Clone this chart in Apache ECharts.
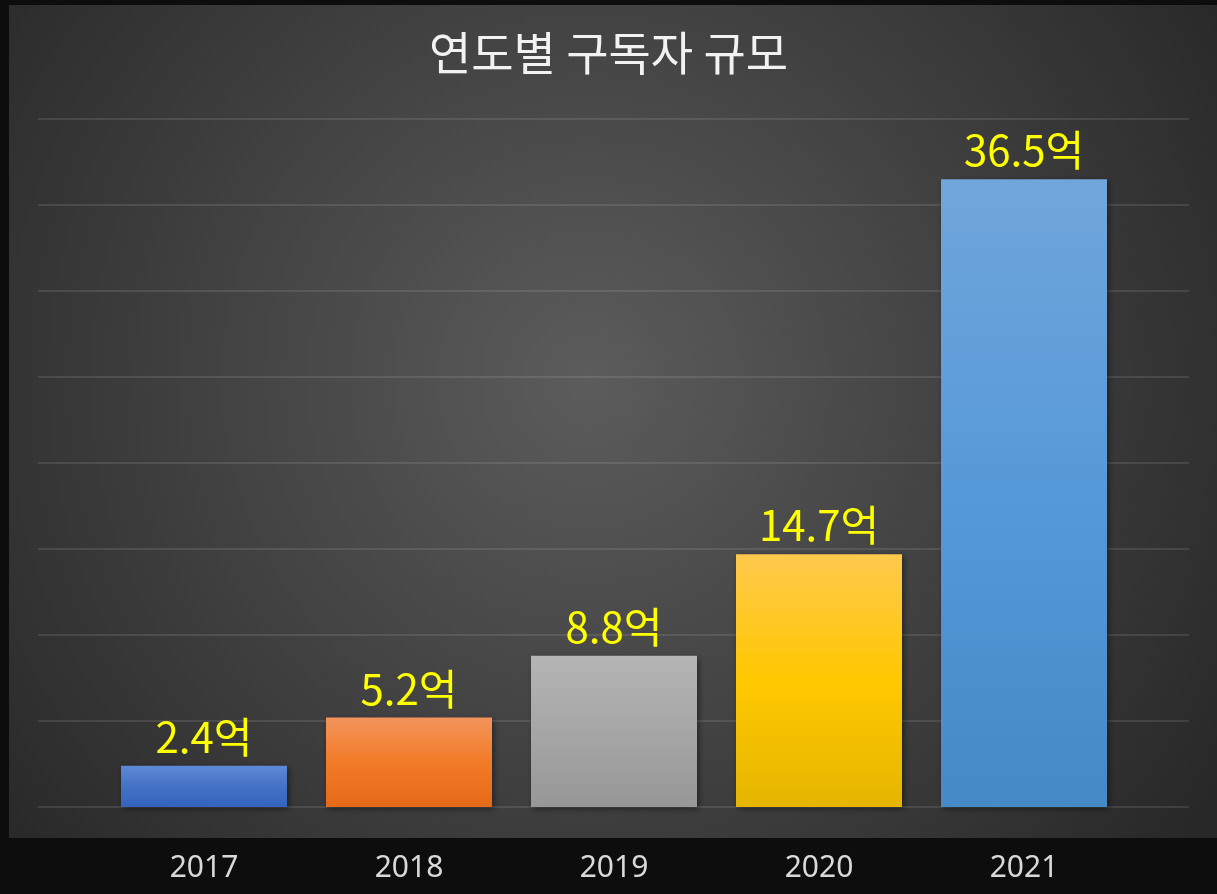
<!DOCTYPE html>
<html><head><meta charset="utf-8">
<script src="https://cdn.jsdelivr.net/npm/echarts@6/dist/echarts.min.js"></script>
<style>html,body{margin:0;padding:0;background:#0d0d0d;}#c{width:1217px;height:894px;}</style>
</head><body><div id="c"></div>
<script>
const chartTitle = '연도별 구독자 규모';
const years = ['2017', '2018', '2019', '2020', '2021'];
const subscribers = [2.4, 5.2, 8.8, 14.7, 36.5];
const unitSuffix = '억';
const yMin = 0, yMax = 40, yInterval = 5;

// styles (kept separate from data)
const barGradients = [
  ['#5e89d7', '#4472c4', '#3463bd'],
  ['#f3945c', '#f27b27', '#e56a18'],
  ['#b5b5b5', '#a6a6a6', '#979797'],
  ['#ffc94d', '#ffc800', '#e5b500'],
  ['#70a6db', '#5699d8', '#4589c7']
];
const FONT = '"Noto Sans", "Noto Sans CJK KR", sans-serif';
const CJK = '"Noto Sans CJK KR", "Noto Sans", sans-serif';

const chart = echarts.init(document.getElementById('c'), null, {renderer: 'canvas'});

function grad(c) {
  return {type: 'linear', x: 0, y: 0, x2: 0, y2: 1,
    colorStops: [{offset: 0, color: c[0]}, {offset: 0.5, color: c[1]}, {offset: 1, color: c[2]}]};
}

const option = {
  backgroundColor: '#0d0d0d',
  animation: false,
  graphic: [{
    type: 'rect', z: -100, silent: true,
    shape: {x: 9, y: 5, width: 1208, height: 833},
    style: {fill: {type: 'radial', x: 0.48, y: 0.45, r: 0.9,
      colorStops: [{offset: 0, color: '#5c5c5c'}, {offset: 1, color: '#282828'}]}}
  }],
  title: {
    text: chartTitle, left: 'center', top: 25,
    textStyle: {color: '#f2f2f2', fontSize: 46, fontWeight: 'normal', fontFamily: CJK}
  },
  grid: [
    {left: 38, width: 1151, top: 119, height: 688},
    {left: 101.5, width: 1025, top: 119, height: 688}
  ],
  xAxis: [
    {type: 'category', gridIndex: 0, data: years, show: false},
    {type: 'category', gridIndex: 1, data: years,
      axisLine: {show: false}, axisTick: {show: false},
      axisLabel: {color: '#d9d9d9', fontSize: 30, fontFamily: FONT, margin: 46}}
  ],
  yAxis: [
    {type: 'value', gridIndex: 0, min: yMin, max: yMax, interval: yInterval,
      axisLabel: {show: false}, axisLine: {show: false}, axisTick: {show: false},
      splitLine: {show: true, lineStyle: {color: 'rgba(255,255,255,0.1)', width: 2}}},
    {type: 'value', gridIndex: 1, min: yMin, max: yMax, interval: yInterval, show: false,
      splitLine: {show: false}}
  ],
  series: [{
    type: 'bar', xAxisIndex: 1, yAxisIndex: 1, barWidth: 166,
    data: subscribers.map((v, i) => ({value: v, itemStyle: {color: grad(barGradients[i])}})),
    itemStyle: {shadowBlur: 6, shadowColor: 'rgba(0,0,0,0.45)', shadowOffsetX: 2, shadowOffsetY: 2},
    label: {show: true, position: 'top', distance: 8, color: '#ffff00', fontSize: 42,
      fontFamily: CJK, formatter: p => p.value + unitSuffix}
  }]
};
chart.setOption(option);
</script></body></html>
